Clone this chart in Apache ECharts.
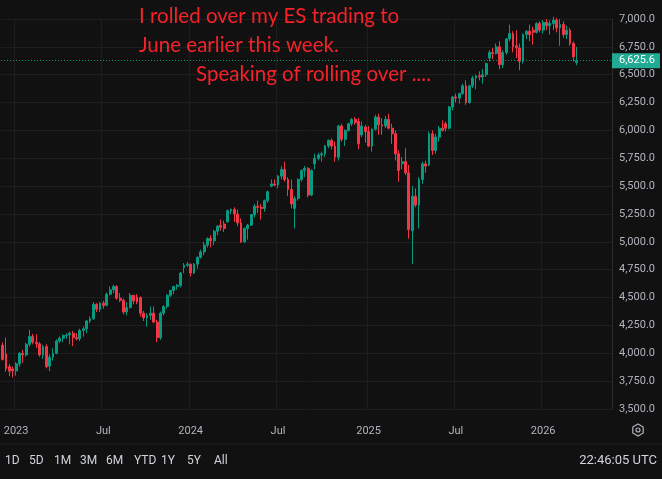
<!DOCTYPE html>
<html><head><meta charset="utf-8">
<script src="https://cdn.jsdelivr.net/npm/echarts@6/dist/echarts.min.js"></script>
<style>html,body{margin:0;padding:0;background:#111111;}#c{width:662px;height:479px;}</style>
</head><body><div id="c"></div>
<script>
// Weekly ES futures candles (week starting dates generated from first week)
const firstWeek = '2022-12-05';
const totalSlots = 182; // 172 bars + empty future weeks on the right
const opens = [4072,3995,3880,3860,3842,3905,4000,3985,4080,4150,4100,4085,3985,4060,3885,3965,4000,4110,4135,4160,4165,4180,4140,4130,4205,4220,4290,4310,4440,4395,
4450,4430,4530,4570,4600,4495,4475,4370,4410,4520,4505,4500,4360,4320,4340,4360,4280,4140,4360,4420,4520,4565,4600,4610,4770,4790,4800,4720,4800,4860,
4910,4970,5030,5010,5095,5150,5160,5180,5280,5290,5250,5170,5000,5120,5150,5245,5320,5310,5300,5370,5500,5520,5510,5590,5650,5560,5470,5300,5390,5560,
5640,5660,5420,5700,5750,5780,5790,5860,5910,5860,5760,6040,5920,6000,6060,6100,6080,5960,6030,5990,5860,6010,6120,6050,6040,6100,6020,5970,5790,5700,
5720,5620,5100,5410,5330,5560,5700,5690,5970,5820,5940,6020,6060,6020,6210,6300,6290,6330,6400,6250,6400,6470,6490,6480,6500,6650,6700,6690,6750,6590,
6700,6820,6870,6760,6740,6620,6860,6890,6900,6880,6960,6900,6970,6940,6960,6990,6920,6950,6860,6900,6780,6610];
const highs = [4098,4140,3905,3880,3920,4010,4030,4095,4210,4175,4170,4100,4075,4080,3990,4045,4125,4150,4170,4180,4195,4200,4180,4220,4240,4300,4330,4460,4450,4460,
4470,4545,4600,4615,4610,4540,4490,4460,4540,4525,4530,4510,4380,4360,4420,4420,4300,4375,4430,4530,4570,4605,4620,4730,4810,4820,4805,4810,4870,4930,
5000,5040,5060,5110,5150,5200,5190,5290,5300,5310,5290,5210,5130,5160,5250,5340,5370,5340,5380,5460,5560,5560,5600,5680,5720,5580,5560,5410,5570,5650,
5680,5670,5650,5790,5800,5810,5870,5920,5930,5900,6050,6060,6010,6070,6110,6120,6110,6080,6050,6040,6020,6140,6150,6110,6130,6150,6060,6000,5820,5760,
5840,5690,5500,5480,5580,5720,5730,5990,6000,5970,6040,6090,6080,6220,6310,6330,6340,6420,6450,6410,6490,6500,6530,6550,6610,6720,6740,6780,6800,6720,
6830,6950,6890,6900,6780,6870,6900,6950,6930,6970,6980,6990,7000,6990,7020,7010,7000,6980,6940,6920,6800,6750];
const lows = [3935,3835,3795,3782,3800,3880,3915,3970,4060,4080,4050,3970,3950,3865,3840,3935,3990,4090,4100,4130,4080,4065,4115,4110,4150,4180,4270,4300,4370,4370,
4400,4420,4520,4540,4480,4460,4350,4340,4400,4440,4440,4330,4290,4240,4300,4270,4100,4120,4340,4400,4505,4530,4570,4590,4720,4775,4690,4710,4760,4850,
4880,4950,4950,4970,5060,5100,5090,5170,5250,5180,5140,4990,4990,5020,5145,5220,5260,5200,5270,5350,5490,5500,5480,5560,5540,5410,5300,5120,5370,5540,
5580,5400,5410,5650,5730,5720,5760,5840,5830,5720,5730,5900,5860,5990,6040,6050,5830,5940,5890,5850,5810,6000,5960,5960,6020,6010,5880,5730,5540,5650,
5600,5030,4800,5310,5120,5520,5620,5680,5780,5790,5900,5990,5990,6010,6180,6250,6240,6320,6230,6240,6380,6370,6450,6420,6480,6620,6640,6680,6550,6560,
6680,6800,6700,6650,6540,6600,6820,6800,6770,6870,6880,6870,6900,6860,6900,6880,6760,6830,6820,6760,6620,6585];
const closes = [3945,3860,3840,3842,3905,4000,3985,4080,4150,4100,4085,3985,4060,3880,3965,4000,4110,4135,4160,4165,4180,4140,4130,4205,4220,4290,4310,4440,4395,4450,
4430,4530,4570,4600,4495,4475,4370,4410,4520,4470,4460,4360,4320,4340,4360,4280,4140,4360,4420,4520,4565,4600,4610,4720,4790,4800,4720,4800,4860,4910,
4970,5030,5010,5095,5140,5130,5120,5280,5290,5250,5170,5000,5120,5150,5245,5320,5310,5300,5370,5450,5520,5510,5590,5650,5560,5470,5340,5390,5560,5640,
5660,5420,5640,5750,5780,5790,5860,5910,5860,5760,6040,5920,6000,6060,6100,6070,5880,6040,5990,5860,6010,6120,6050,6040,6100,6020,5970,5790,5640,5720,
5620,5110,5410,5330,5560,5700,5680,5970,5820,5940,6020,6000,6020,6210,6300,6290,6330,6400,6250,6400,6470,6490,6480,6500,6600,6700,6690,6750,6590,6700,
6820,6870,6750,6740,6620,6860,6890,6860,6880,6960,6900,6970,6940,6960,6990,6920,6950,6860,6900,6780,6660,6625.6];
const lastPrice = 6625.6;
const yTicksMin = 3500, yTicksMax = 7000, yTickStep = 250;
const notes = ['I rolled over my ES trading to', 'June earlier this week.', 'Speaking of rolling over ....'];
const ranges = ['1D','5D','1M','3M','6M','YTD','1Y','5Y','All'];
const clock = '22:46:05 UTC';

// build categories
const weeks = [];
{
  const d0 = new Date(firstWeek + 'T00:00:00Z');
  for (let i = 0; i < totalSlots; i++) {
    const d = new Date(d0.getTime() + i * 7 * 86400000);
    weeks.push(d.toISOString().slice(0, 10));
  }
}
const candleData = opens.map((o, i) => [o, closes[i], lows[i], highs[i]]);

function isMark(idx) {
  if (idx === 0) return false;
  const m = +weeks[idx].slice(5, 7), pm = +weeks[idx - 1].slice(5, 7);
  return (m === 1 || m === 7) && m !== pm;
}
function fmtNum(v) {
  const s = v.toFixed(1);
  const [a, b] = s.split('.');
  return a.replace(/\B(?=(\d{3})+(?!\d))/g, ',') + '.' + b;
}

const chart = echarts.init(document.getElementById('c'), null, {renderer: 'canvas'});
const AX = '#b2b5be';
const GRID = '#1e1e1e';
const UP = '#089981', DOWN = '#f23645';
const graphics = [];
const notePos = [[139, 16], [139, 45], [196, 74]];
notes.forEach((t, i) => graphics.push({type: 'text', x: notePos[i][0], y: notePos[i][1], z: 100,
  style: {text: t, fill: '#f5222a', font: '20.5px Lato, sans-serif', textVerticalAlign: 'middle'}}));
const rangeX = [5, 29, 54, 80, 106, 134, 161, 187, 214];
ranges.forEach((t, i) => graphics.push({type: 'text', x: rangeX[i], y: 461, z: 100,
  style: {text: t, fill: '#d1d4dc', font: '12px Roboto, sans-serif', textVerticalAlign: 'middle'}}));
graphics.push({type: 'text', x: 657, y: 461, z: 100,
  style: {text: clock, fill: '#d1d4dc', font: '13px Roboto, sans-serif', textAlign: 'right', textVerticalAlign: 'middle'}});
graphics.push({type: 'line', z: 100, shape: {x1: 0, y1: 444, x2: 662, y2: 444}, style: {stroke: '#1e1e1e', lineWidth: 1}});
// settings gear icon
graphics.push({type: 'polygon', z: 100, shape: {points: [[638,424],[643.2,427],[643.2,433],[638,436],[632.8,433],[632.8,427]]}, style: {fill: 'none', stroke: '#b2b5be', lineWidth: 1.2}});
graphics.push({type: 'circle', z: 100, shape: {cx: 638, cy: 430, r: 2}, style: {fill: 'none', stroke: '#b2b5be', lineWidth: 1.2}});

chart.setOption({
  backgroundColor: '#111111',
  animation: false,
  grid: {left: 1, right: 50, top: 19, height: 390, containLabel: false},
  xAxis: {
    type: 'category', data: weeks, boundaryGap: true,
    axisLine: {show: false}, axisTick: {show: false},
    axisLabel: {interval: (idx) => isMark(idx), color: AX, fontSize: 11, fontFamily: 'Roboto, sans-serif', margin: 17,
      formatter: (v) => (+v.slice(5, 7) === 1 ? v.slice(0, 4) : 'Jul')},
    splitLine: {show: true, interval: (idx) => isMark(idx), lineStyle: {color: GRID, width: 1}}
  },
  yAxis: {
    type: 'value', position: 'right', min: yTicksMin, max: yTicksMax, interval: yTickStep, scale: true,
    axisLine: {show: true, lineStyle: {color: '#2a2a2a'}}, axisTick: {show: false},
    axisLabel: {color: AX, fontSize: 11, fontFamily: 'Roboto, sans-serif', margin: 7, formatter: fmtNum},
    splitLine: {lineStyle: {color: GRID, width: 1}}
  },
  series: [{
    type: 'candlestick', data: candleData, clip: false, barWidth: '70%',
    itemStyle: {color: UP, color0: DOWN, borderColor: UP, borderColor0: DOWN, borderWidth: 1},
    markLine: {
      symbol: ['none', 'none'], silent: true, animation: false,
      lineStyle: {type: [1, 2], color: UP, width: 1},
      label: {show: true, position: 'end', distance: 0, formatter: () => fmtNum(lastPrice), color: '#ffffff',
        backgroundColor: '#22ab94', padding: [2, 5, 2, 7], fontSize: 11, fontFamily: 'Roboto, sans-serif'},
      data: [{yAxis: lastPrice}]
    }
  }],
  graphic: graphics
});
</script></body></html>
